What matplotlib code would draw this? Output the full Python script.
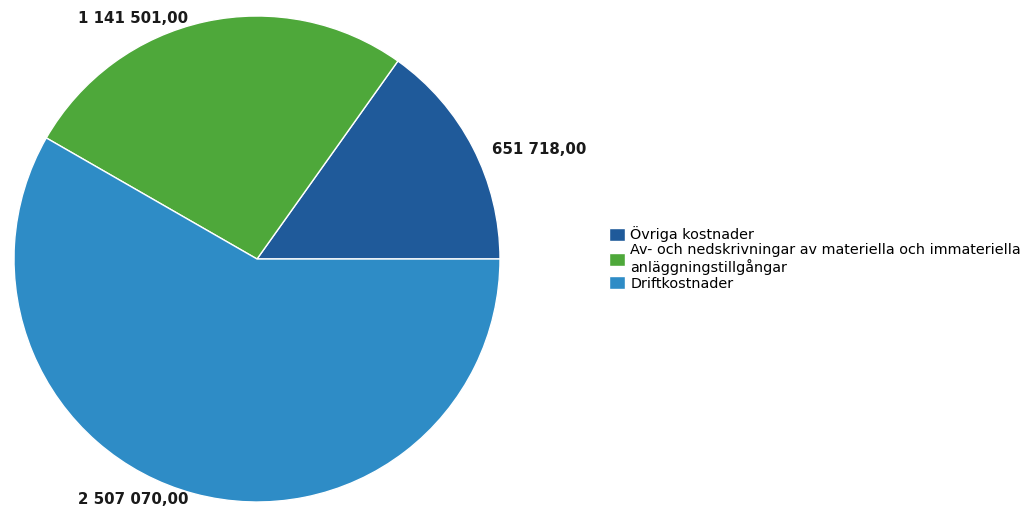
import matplotlib.pyplot as plt

labels = ['Övriga kostnader',
          'Av- och nedskrivningar av materiella och immateriella\nanläggningstillgångar',
          'Driftkostnader']
values = [651718.00, 1141501.00, 2507070.00]
value_texts = ['651 718,00', '1 141 501,00', '2 507 070,00']
colors = ['#1f5a9a', '#4ea83a', '#2e8cc6']

fig = plt.figure(figsize=(10.34, 5.12), dpi=100)
ax = fig.add_axes([14 / 1034, 10 / 512, 486 / 1034, 486 / 512])

wedges, _ = ax.pie(values, colors=colors, startangle=0, counterclock=True,
                   radius=1.0, wedgeprops=dict(edgecolor='white', linewidth=1.0))
ax.set_xlim(-1, 1)
ax.set_ylim(-1, 1)
ax.set_aspect('equal')

# value labels, placed like the original report
label_pos = [(0.967, 0.449), (-0.737, 0.99), (-0.737, -0.99)]
for (x, y), txt in zip(label_pos, value_texts):
    ax.text(x, y, txt, ha='left', va='center', fontsize=10.8,
            fontweight='bold', color='#1a1a1a', clip_on=False)

fig.legend(wedges, labels, loc='upper left',
           bbox_to_anchor=(602 / 1034, 1 - 219 / 512),
           frameon=False, fontsize=10.4, handlelength=1.1, handleheight=1.0,
           handletextpad=0.35, labelspacing=0.05, borderpad=0)

fig.savefig('out.png', dpi=100)
